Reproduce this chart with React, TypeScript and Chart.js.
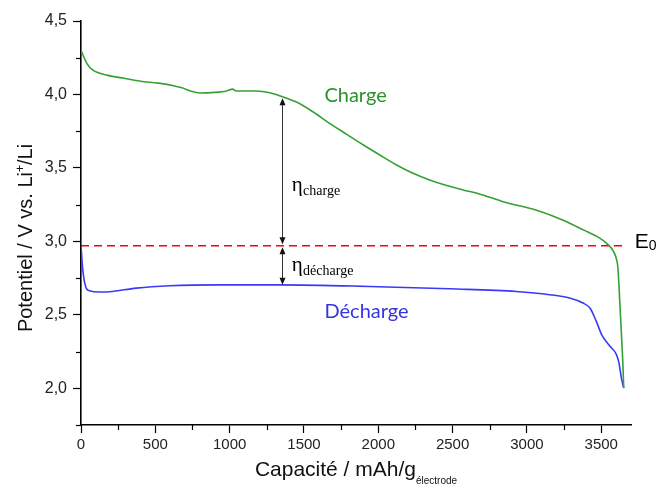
import React, { useEffect, useRef } from 'react';
import { Chart, registerables } from 'chart.js';

Chart.register(...registerables);

// ---- Data ----
const chargeCapacity = [0, 40, 80, 180, 290, 400, 520, 630, 680, 740, 800, 900, 980, 1020, 1045, 1180, 1270, 1340, 1450, 1560, 1670, 1785, 1900, 2010, 2120, 2230, 2345, 2460, 2570, 2680, 2840, 3060, 3240, 3380, 3490, 3545, 3580, 3602, 3612, 3624, 3635, 3646, 3651];
const chargePotential = [4.3, 4.21, 4.165, 4.13, 4.11, 4.09, 4.077, 4.058, 4.045, 4.022, 4.01, 4.014, 4.024, 4.036, 4.024, 4.024, 4.011, 3.99, 3.948, 3.882, 3.805, 3.73, 3.656, 3.588, 3.522, 3.465, 3.418, 3.38, 3.35, 3.323, 3.27, 3.214, 3.146, 3.078, 3.022, 2.978, 2.935, 2.88, 2.82, 2.6, 2.38, 2.15, 2.0];

const dischargeCapacity = [0, 12, 35, 57, 124, 192, 371, 596, 932, 1336, 1941, 2480, 2929, 3153, 3287, 3377, 3425, 3467, 3505, 3556, 3602, 3619, 3635, 3651];
const dischargePotential = [2.97, 2.806, 2.682, 2.664, 2.655, 2.657, 2.682, 2.698, 2.704, 2.704, 2.693, 2.677, 2.659, 2.637, 2.614, 2.58, 2.545, 2.455, 2.36, 2.29, 2.229, 2.173, 2.071, 2.003];

const e0Capacity = [0, 3650];
const e0Potential = [2.97, 2.97];

const xTickValues = [0, 500, 1000, 1500, 2000, 2500, 3000, 3500];
const yTickValues = [2.0, 2.5, 3.0, 3.5, 4.0, 4.5];
const xMinorTickValues = [250, 750, 1250, 1750, 2250, 2750, 3250];
const yMinorTickValues = [1.75, 2.25, 2.75, 3.25, 3.75, 4.25];

const arrowCapacity = 1350;
const arrowChargeTop = 3.975;
const arrowE0 = 2.97;
const arrowDischargeBottom = 2.705;

const GREEN_LINE = '#35a035';
const GREEN_TEXT = '#2a922a';
const BLUE_LINE = '#3a3af5';
const BLUE_TEXT = '#3535e0';
const SANS = '"Liberation Sans", Arial, sans-serif';
const SERIF = '"Liberation Serif", "Times New Roman", serif';

function drawHead(ctx: CanvasRenderingContext2D, x: number, tipY: number, dir: number) {
  const len = 7;
  const hw = 3;
  ctx.beginPath();
  ctx.moveTo(x, tipY);
  ctx.lineTo(x - hw, tipY - dir * len);
  ctx.lineTo(x + hw, tipY - dir * len);
  ctx.closePath();
  ctx.fill();
}

function drawDoubleArrow(ctx: CanvasRenderingContext2D, x: number, y1: number, y2: number) {
  ctx.beginPath();
  ctx.moveTo(x, y1 + 5);
  ctx.lineTo(x, y2 - 5);
  ctx.stroke();
  drawHead(ctx, x, y1, -1);
  drawHead(ctx, x, y2, 1);
}

const annotationPlugin = {
  id: 'annotations',
  afterDraw(chart: any) {
    const { ctx, scales } = chart;
    const x = scales.x;
    const y = scales.y;
    ctx.save();

    // minor ticks
    ctx.strokeStyle = '#000';
    ctx.lineWidth = 1.2;
    const bottom = chart.chartArea.bottom;
    const left = chart.chartArea.left;
    xMinorTickValues.forEach((v) => {
      const px = Math.round(x.getPixelForValue(v)) + 0.5;
      ctx.beginPath();
      ctx.moveTo(px, bottom);
      ctx.lineTo(px, bottom + 5);
      ctx.stroke();
    });
    yMinorTickValues.forEach((v) => {
      const py = Math.round(y.getPixelForValue(v)) + 0.5;
      ctx.beginPath();
      ctx.moveTo(left, py);
      ctx.lineTo(left - 5, py);
      ctx.stroke();
    });

    // arrows
    ctx.strokeStyle = '#333';
    ctx.fillStyle = '#111';
    ctx.lineWidth = 1;
    const ax = Math.round(x.getPixelForValue(arrowCapacity)) + 0.5;
    const e0 = y.getPixelForValue(arrowE0);
    drawDoubleArrow(ctx, ax, y.getPixelForValue(arrowChargeTop), e0 - 1.5);
    drawDoubleArrow(ctx, ax, e0 + 1.5, y.getPixelForValue(arrowDischargeBottom));

    // Charge / Décharge labels
    ctx.textAlign = 'center';
    ctx.textBaseline = 'middle';
    ctx.font = '20px Lato, "Open Sans", sans-serif';
    ctx.fillStyle = GREEN_TEXT;
    ctx.fillText('Charge', x.getPixelForValue(1847), y.getPixelForValue(3.995));
    ctx.fillStyle = BLUE_TEXT;
    ctx.fillText('Décharge', x.getPixelForValue(1921), y.getPixelForValue(2.52));

    // eta labels
    ctx.textAlign = 'left';
    ctx.textBaseline = 'alphabetic';
    ctx.fillStyle = '#000';
    const drawEta = (sub: string, cap: number, pot: number) => {
      const px = x.getPixelForValue(cap);
      const py = y.getPixelForValue(pot);
      ctx.font = '21px ' + SERIF;
      ctx.fillText('η', px, py);
      const w = ctx.measureText('η').width;
      ctx.font = '14px ' + SERIF;
      ctx.fillText(sub, px + w + 0.5, py + 4);
    };
    drawEta('charge', 1417, 3.342);
    drawEta('décharge', 1417, 2.80);

    // E0
    const ex = x.getPixelForValue(3725);
    const ey = y.getPixelForValue(2.953);
    ctx.font = '21px ' + SANS;
    ctx.fillStyle = '#000';
    ctx.fillText('E', ex, ey);
    const ew = ctx.measureText('E').width;
    ctx.font = '14px ' + SANS;
    ctx.fillText('0', ex + ew, ey + 2);

    // Y axis title
    ctx.save();
    ctx.translate(32, 238);
    ctx.rotate(-Math.PI / 2);
    ctx.fillStyle = '#111';
    const p1 = 'Potentiel / V vs. Li';
    const p2 = '+';
    const p3 = '/Li';
    ctx.font = '20px ' + SANS;
    const w1 = ctx.measureText(p1).width;
    const w3 = ctx.measureText(p3).width;
    ctx.font = '12px ' + SANS;
    const w2 = ctx.measureText(p2).width;
    const total = w1 + w2 + w3;
    let cx = -total / 2;
    ctx.font = '20px ' + SANS;
    ctx.fillText(p1, cx, 0);
    cx += w1;
    ctx.font = '12px ' + SANS;
    ctx.fillText(p2, cx, -8);
    cx += w2;
    ctx.font = '20px ' + SANS;
    ctx.fillText(p3, cx, 0);
    ctx.restore();

    // X axis title
    ctx.fillStyle = '#111';
    const t1 = 'Capacité / mAh/g';
    const t2 = 'électrode';
    ctx.font = '21px ' + SANS;
    const tw1 = ctx.measureText(t1).width;
    ctx.font = '10px ' + SANS;
    const tw2 = ctx.measureText(t2).width;
    let tx = 356 - (tw1 + tw2) / 2;
    ctx.font = '21px ' + SANS;
    ctx.fillText(t1, tx, 476);
    tx += tw1;
    ctx.font = '10px ' + SANS;
    ctx.fillText(t2, tx, 484);

    ctx.restore();
  },
};

export default function App() {
  const canvasRef = useRef<HTMLCanvasElement | null>(null);

  useEffect(() => {
    if (!canvasRef.current) return;
    const chart = new Chart(canvasRef.current, {
      type: 'line',
      data: {
        datasets: [
          {
            label: 'Charge',
            data: chargeCapacity.map((c, i) => ({ x: c, y: chargePotential[i] })),
            borderColor: GREEN_LINE,
            borderWidth: 1.6,
            pointRadius: 0,
            cubicInterpolationMode: 'monotone',
            fill: false,
          },
          {
            label: 'Décharge',
            data: dischargeCapacity.map((c, i) => ({ x: c, y: dischargePotential[i] })),
            borderColor: BLUE_LINE,
            borderWidth: 1.6,
            pointRadius: 0,
            cubicInterpolationMode: 'monotone',
            fill: false,
          },
          {
            label: 'E0',
            data: e0Capacity.map((c, i) => ({ x: c, y: e0Potential[i] })),
            borderColor: '#ff0000',
            borderWidth: 1.6,
            borderDash: [8, 5],
            pointRadius: 0,
            fill: false,
          },
        ],
      },
      options: {
        animation: false,
        responsive: false,
        layout: { padding: { top: 21, right: 26, left: 0, bottom: 0 } },
        plugins: {
          legend: { display: false },
          tooltip: { enabled: false },
        },
        scales: {
          x: {
            type: 'linear',
            min: 0,
            max: 3700,
            afterBuildTicks: (scale: any) => {
              scale.ticks = xTickValues.map((v) => ({ value: v }));
            },
            afterFit: (scale: any) => {
              scale.height = 70;
            },
            grid: {
              drawOnChartArea: false,
              drawTicks: true,
              tickLength: 8,
              tickColor: '#000',
              tickWidth: 1.2,
            },
            border: { display: true, color: '#000', width: 1.6 },
            ticks: {
              padding: 3,
              color: '#222',
              font: { family: SANS, size: 15 },
              maxRotation: 0,
              autoSkip: false,
              callback: (v: any) => String(v),
            },
          },
          y: {
            type: 'linear',
            min: 1.75,
            max: 4.5,
            afterBuildTicks: (scale: any) => {
              scale.ticks = yTickValues.map((v) => ({ value: v }));
            },
            afterFit: (scale: any) => {
              scale.width = 81;
            },
            grid: {
              drawOnChartArea: false,
              drawTicks: true,
              tickLength: 8,
              tickColor: '#000',
              tickWidth: 1.2,
            },
            border: { display: true, color: '#000', width: 1.6 },
            ticks: {
              padding: 6,
              color: '#222',
              font: { family: SANS, size: 16 },
              autoSkip: false,
              callback: (v: any) => Number(v).toFixed(1).replace('.', ','),
            },
          },
        },
      },
      plugins: [annotationPlugin],
    } as any);
    return () => chart.destroy();
  }, []);

  return (
    <div style={{ position: 'absolute', left: 0, top: 0, width: 657, height: 495, background: '#fff' }}>
      <canvas ref={canvasRef} width={657} height={495} style={{ display: 'block' }} />
    </div>
  );
}
